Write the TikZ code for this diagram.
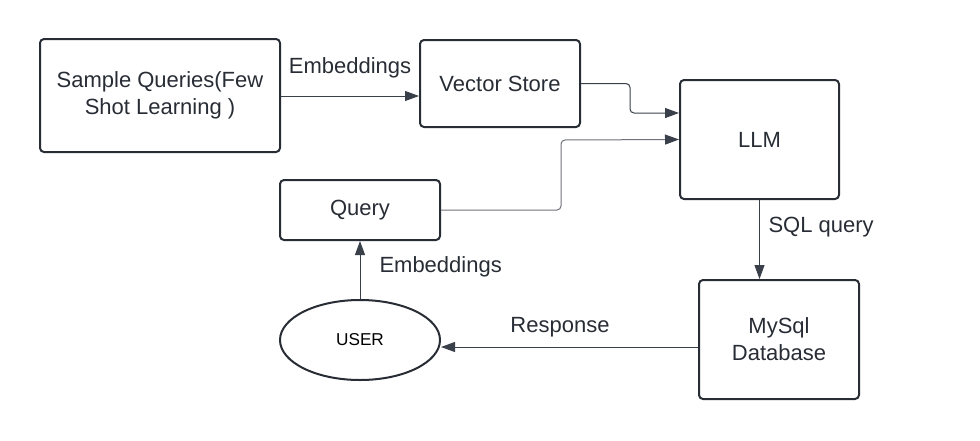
\documentclass[tikz,border=0pt]{standalone}
\usepackage{fontspec}
\setmainfont{Liberation Sans}
\usetikzlibrary{arrows.meta,shapes.geometric}
\definecolor{ink}{RGB}{40,45,53}
\definecolor{wire}{RGB}{58,64,74}
\definecolor{wiregray}{RGB}{110,114,120}

\begin{document}
\begin{tikzpicture}[x=0.5pt,y=-0.5pt,line width=0.5pt,>={Triangle[length=7pt,width=5pt]},
  box/.style={draw=ink,line width=1pt,rounded corners=2pt,align=center,text=ink,
    font=\fontsize{11}{13.5}\selectfont,inner sep=0pt},
  conn/.style={->,draw=wire,rounded corners=2pt},
  lbl/.style={text=ink,font=\fontsize{11}{13.5}\selectfont,inner sep=0pt}]
  \useasboundingbox (0,0) rectangle (980,440);
  % cajas
  \node[box,minimum width=120pt,minimum height=56.5pt] (sample) at (160,95.5){Sample Queries(Few\\Shot Learning )};
  \node[box,minimum width=80pt,minimum height=43.5pt] (vs) at (500,83.5){Vector Store};
  \node[box,minimum width=79.5pt,minimum height=59.5pt] (llm) at (759.5,139.5){LLM};
  \node[box,minimum width=80pt,minimum height=30pt] (query) at (360,210){Query};
  \node[box,minimum width=80pt,minimum height=59.5pt] (db) at (779,339.5){MySql\\Database};
  \node[draw=ink,line width=1pt,ellipse,minimum width=80pt,minimum height=40pt,inner sep=0pt,
    font=\fontsize{8.6}{10}\selectfont] (user) at (360,340){USER};
  % conexiones
  \draw[conn] (sample.east |- 0,96) -- (vs.west |- 0,96);
  \node[lbl] (emb1) at (350,68){Embeddings};
  \draw[conn] (vs.east) -| (630,113) -- (llm.west |- 0,113);
  \draw[conn,draw=wiregray,-{Triangle[length=7pt,width=5pt,fill=wire,color=wire]}] (query.east) -| (561,140) -- (llm.west);
  \draw[conn] (llm.south) -- (db.north -| llm.south);
  \node[lbl,anchor=west] (sql) at (768,227){SQL query};
  \draw[conn] (db.west |- 0,347) -- (user.east |- 0,347);
  \node[lbl] (resp) at (560,327){Response};
  \draw[conn] (user.north) -- (query.south);
  \node[lbl,anchor=west] (emb2) at (379,267){Embeddings};
\end{tikzpicture}
\end{document}
